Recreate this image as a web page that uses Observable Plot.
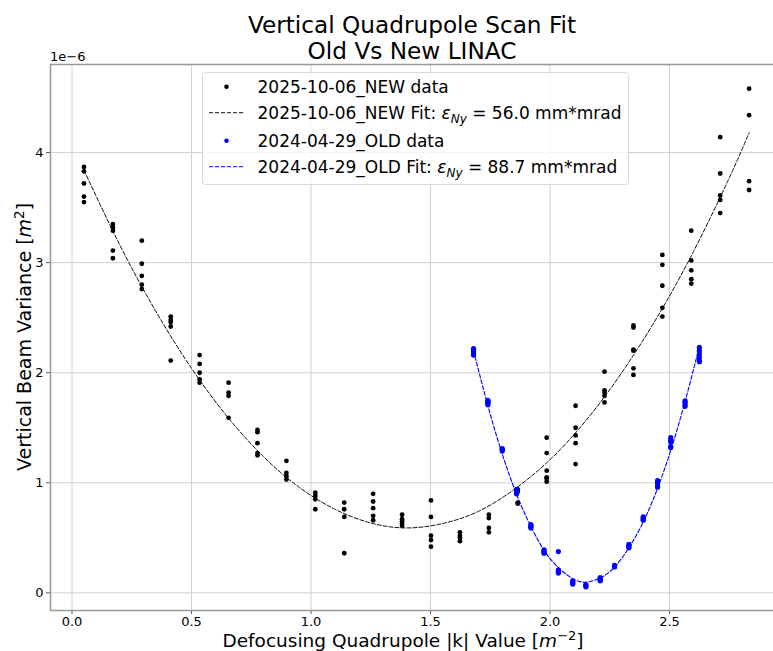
<!DOCTYPE html>
<html><head><meta charset="utf-8">
<script src="https://cdn.jsdelivr.net/npm/d3@7"></script>
<script src="https://cdn.jsdelivr.net/npm/@observablehq/plot@0.6"></script>
<style>
body{margin:0;background:#fff}
svg{font-family:"DejaVu Sans",sans-serif}
</style>
</head><body><div id="chart"></div>
<script>
// ---- Data (variance values in units of 1e-6 m^2) ----
const titleLines = ["Vertical Quadrupole Scan Fit", "Old Vs New LINAC"];
const offsetText = "1e\u22126";
const legendLabels = ["2025-10-06_NEW data", "2025-10-06_NEW Fit: ", "2024-04-29_OLD data", "2024-04-29_OLD Fit: "];
const emittances = ["56.0", "88.7"];
const xTicks = [0, 0.5, 1.0, 1.5, 2.0, 2.5];
const yTicks = [0, 1, 2, 3, 4];

const newK = [0.05, 0.171, 0.292, 0.413, 0.534, 0.655, 0.776, 0.897, 1.018, 1.139, 1.26, 1.381,
  1.502, 1.623, 1.744, 1.865, 1.986, 2.107, 2.228, 2.349, 2.47, 2.591, 2.712, 2.833];
const newVar = [
  [3.87, 3.83, 3.72, 3.60, 3.55],
  [3.35, 3.32, 3.29, 3.11, 3.04],
  [3.20, 2.99, 2.88, 2.80, 2.76],
  [2.51, 2.48, 2.46, 2.42, 2.11],
  [2.16, 2.08, 2.00, 1.94, 1.91],
  [1.91, 1.82, 1.79, 1.59],
  [1.48, 1.46, 1.36, 1.27, 1.25],
  [1.20, 1.09, 1.06, 1.03],
  [0.91, 0.88, 0.85, 0.76],
  [0.82, 0.76, 0.69, 0.36],
  [0.90, 0.83, 0.77, 0.70, 0.66],
  [0.71, 0.67, 0.65, 0.63, 0.61],
  [0.84, 0.69, 0.52, 0.48, 0.42],
  [0.55, 0.52, 0.50, 0.47],
  [0.71, 0.68, 0.59, 0.55],
  [0.94, 0.92, 0.82, 0.81],
  [1.41, 1.27, 1.11, 1.05, 1.04, 1.01],
  [1.70, 1.50, 1.43, 1.36, 1.17],
  [2.01, 1.84, 1.82, 1.79, 1.73],
  [2.43, 2.41, 2.21, 2.20, 2.04, 1.98],
  [3.07, 2.98, 2.79, 2.59, 2.51],
  [3.29, 3.02, 2.93, 2.85, 2.81],
  [4.14, 3.81, 3.61, 3.57, 3.45],
  [4.58, 4.34, 3.74, 3.66]
];
const newFitK = [0.05, 0.20, 0.35, 0.50, 0.65, 0.80, 0.95, 1.10, 1.25, 1.40, 1.55, 1.70, 1.85, 2.00, 2.15, 2.30, 2.45, 2.60, 2.75, 2.833];
const newFitVar = [3.84, 3.16, 2.56, 2.04, 1.60, 1.24, 0.96, 0.76, 0.635, 0.59, 0.63, 0.74, 0.94, 1.21, 1.565, 2.00, 2.51, 3.10, 3.77, 4.18];

const oldK = [1.68, 1.74, 1.80, 1.86, 1.92, 1.975, 2.035, 2.095, 2.15, 2.21, 2.27, 2.33, 2.39, 2.45, 2.505, 2.565, 2.625];
const oldVar = [
  [2.22, 2.21, 2.19, 2.17, 2.16],
  [1.75, 1.74, 1.73, 1.72, 1.71],
  [1.31, 1.30, 1.29],
  [0.94, 0.93, 0.92, 0.91, 0.90],
  [0.62, 0.61, 0.60, 0.59],
  [0.39, 0.38, 0.37, 0.36],
  [0.375, 0.21, 0.20, 0.19, 0.18],
  [0.11, 0.10, 0.09, 0.08],
  [0.075, 0.065, 0.055],
  [0.14, 0.13, 0.12, 0.11],
  [0.25, 0.245, 0.235],
  [0.44, 0.43, 0.42, 0.41],
  [0.69, 0.68, 0.67, 0.66],
  [1.02, 1.00, 0.98, 0.96],
  [1.41, 1.39, 1.37, 1.33, 1.32],
  [1.745, 1.73, 1.71, 1.695],
  [2.23, 2.20, 2.17, 2.14, 2.11, 2.10]
];
const oldFitK = [1.68, 1.73, 1.78, 1.83, 1.88, 1.93, 1.98, 2.03, 2.08, 2.13, 2.18, 2.23, 2.28, 2.33, 2.38, 2.43, 2.48, 2.53, 2.58, 2.625];
const oldFitVar = [2.20, 1.78, 1.40, 1.07, 0.79, 0.56, 0.37, 0.24, 0.15, 0.10, 0.11, 0.16, 0.26, 0.41, 0.60, 0.84, 1.13, 1.47, 1.86, 2.24];

// ---- Build tables ----
const newData = newK.flatMap((k, i) => newVar[i].map(v => ({k, v})));
const oldData = oldK.flatMap((k, i) => oldVar[i].map(v => ({k, v})));
const newFit = newFitK.map((k, i) => ({k, v: newFitVar[i]}));
const oldFit = oldFitK.map((k, i) => ({k, v: oldFitVar[i]}));

const W = 773, H = 651;
const xDom = [-0.09, 2.935], yDom = [-0.16, 4.80];
const spine = "#999";
const dash = "4,2";

const chart = Plot.plot({
  width: W, height: H,
  marginLeft: 50, marginRight: 0, marginTop: 64, marginBottom: 41,
  style: {fontFamily: "DejaVu Sans, sans-serif", fontSize: "13px", color: "#000", background: "#fff"},
  x: {domain: xDom, label: null},
  y: {domain: yDom, label: null},
  marks: [
    Plot.gridX(xTicks, {stroke: "#d0d0d0", strokeOpacity: 1, strokeWidth: 1}),
    Plot.gridY(yTicks, {stroke: "#d0d0d0", strokeOpacity: 1, strokeWidth: 1}),
    Plot.axisX(xTicks, {tickFormat: d => d.toFixed(1), tickSize: 4, tickPadding: 2, stroke: "#555", label: null, fontSize: 13}),
    Plot.axisY(yTicks, {tickFormat: d => String(d), tickSize: 4, tickPadding: 3, stroke: "#555", label: null, fontSize: 13}),
    Plot.dot(newData, {x: "k", y: "v", r: 2.4, fill: "black"}),
    Plot.line(newFit, {x: "k", y: "v", stroke: "#111", strokeWidth: 1, strokeDasharray: dash, curve: "natural"}),
    Plot.dot(oldData, {x: "k", y: "v", r: 2.6, fill: "blue"}),
    Plot.line(oldFit, {x: "k", y: "v", stroke: "blue", strokeWidth: 1.1, strokeDasharray: dash, curve: "natural"}),
    Plot.ruleX([xDom[0]], {stroke: spine, strokeWidth: 1.5}),
    Plot.ruleY([yDom[0]], {stroke: spine, strokeWidth: 1.5}),
    Plot.ruleY([yDom[1]], {stroke: spine, strokeWidth: 1.5})
  ]
});
document.getElementById("chart").append(chart);

const svg = d3.select(chart);
const cx = 412;
// Title
svg.append("text").attr("x", cx).attr("y", 33).attr("text-anchor", "middle")
  .attr("font-size", 23.2).attr("fill", "#000").text(titleLines[0]);
svg.append("text").attr("x", cx).attr("y", 59).attr("text-anchor", "middle")
  .attr("font-size", 23.2).attr("fill", "#000").text(titleLines[1]);
// Offset text
svg.append("text").attr("x", 50).attr("y", 61).attr("text-anchor", "start")
  .attr("font-size", 13).attr("fill", "#000").text(offsetText);

// X label
const xl = svg.append("text").attr("x", 403).attr("y", 647).attr("text-anchor", "middle")
  .attr("font-size", 18.5).attr("fill", "#000");
xl.append("tspan").text("Defocusing Quadrupole |k| Value [");
xl.append("tspan").attr("font-style", "italic").text("m");
xl.append("tspan").attr("font-size", 13).attr("dy", -7).text("\u22122");
xl.append("tspan").attr("dy", 7).text("]");

// Y label
const yl = svg.append("text").attr("transform", `translate(31,337) rotate(-90)`).attr("text-anchor", "middle")
  .attr("font-size", 19).attr("fill", "#000");
yl.append("tspan").text("Vertical Beam Variance [");
yl.append("tspan").attr("font-style", "italic").text("m");
yl.append("tspan").attr("font-size", 13.5).attr("dy", -7).text("2");
yl.append("tspan").attr("dy", 7).text("]");

// Legend
const lg = svg.append("g").attr("text-anchor", "start");
lg.append("rect").attr("x", 202.5).attr("y", 72.5).attr("width", 426).attr("height", 112).attr("rx", 3)
  .attr("fill", "#fff").attr("fill-opacity", 0.8).attr("stroke", "#d8d8d8");
const rows = [86.7, 112.7, 140.7, 166.7];
const colors = ["black", "#111", "blue", "blue"];
rows.forEach((ry, i) => {
  if (i % 2 === 0) {
    lg.append("circle").attr("cx", 226.5).attr("cy", ry).attr("r", 2.3).attr("fill", colors[i]);
  } else {
    lg.append("line").attr("x1", 209).attr("x2", 243).attr("y1", ry).attr("y2", ry)
      .attr("stroke", colors[i]).attr("stroke-width", 1).attr("stroke-dasharray", dash);
  }
  const t = lg.append("text").attr("x", 257.5).attr("y", ry + 6).attr("text-anchor", "start")
    .attr("font-size", 17).attr("fill", "#000");
  t.append("tspan").text(legendLabels[i]);
  if (i % 2 === 1) {
    t.append("tspan").attr("font-style", "italic").text("\u03B5");
    t.append("tspan").attr("font-style", "italic").attr("font-size", 12).attr("dy", 4).text("Ny");
    t.append("tspan").attr("dy", -4).text(" = " + emittances[(i - 1) / 2] + " mm*mrad");
  }
});
</script></body></html>
